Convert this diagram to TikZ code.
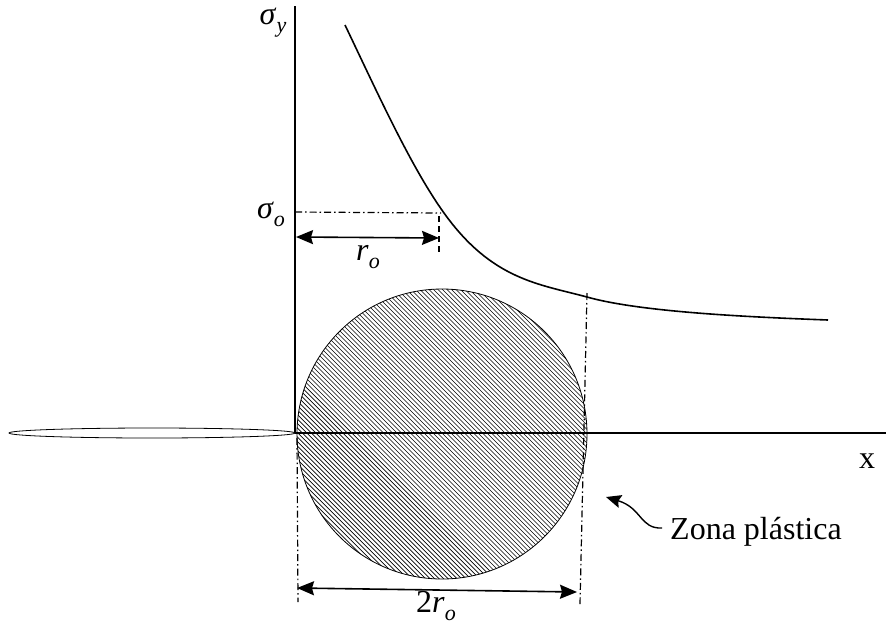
\documentclass[tikz,border=0pt]{standalone}
\usepackage{fontspec}
\setmainfont{Liberation Serif}
\usetikzlibrary{arrows.meta,calc}
\newcommand\symsub[2]{#1\raisebox{-0.25em}{\fontsize{22}{22}\selectfont\textit{#2}}}
\begin{document}
\begin{tikzpicture}[x=1pt,y=-1pt,
  axis/.style={line width=1.6pt},
  thinline/.style={line width=0.8pt},
  hatch/.style={line width=0.7pt},
  dimline/.style={line width=1.6pt,{Stealth[length=17pt,width=14pt,inset=2pt]}-{Stealth[length=17pt,width=14pt,inset=2pt]}},
  dashdot/.style={line width=1.2pt,dash pattern=on 7pt off 3pt on 1.5pt off 3pt},
  shortdash/.style={line width=1.2pt,dash pattern=on 6pt off 4pt},
  lbl/.style={inner sep=0pt,font=\fontsize{32}{36}\selectfont}]
\useasboundingbox (0,0) rectangle (886,630);

\coordinate (O) at (295,433);
\coordinate (ytop) at (295,6);
\coordinate (xend) at (886,433);
\coordinate (C) at (442,434);
\coordinate (crack) at (152,433);

% plastic zone hatching
\begin{scope}
  \clip (C) circle (145);
  \foreach \i in {-215,-210.5,...,215}
    \draw[hatch] ($(C)+(\i-170,-170)$) -- ++(340,340);
\end{scope}
\draw[thinline] (C) circle (145);

% crack
\draw[thinline] (crack) ellipse [x radius=143, y radius=5];

% axes
\draw[axis] (ytop) -- (O);
\draw[axis] (O) -- (xend);

% stress curve
\coordinate (c0) at (345,25);
\coordinate (c1) at (444,213);
\coordinate (c2) at (587,297);
\coordinate (c3) at (828,320);
\draw[axis] (c0) .. controls (378,94) and (411,167) .. (c1)
               .. controls (492,280) and (539,284) .. (c2)
               .. controls (640,312) and (748,317) .. (c3);

% sigma_o level
\coordinate (so) at (295,212);
\coordinate (sc) at (441,213);
\coordinate (sv) at (439,216);
\coordinate (sd) at (439,253);
\draw[dashdot] (so) -- (sc);
\draw[shortdash] (sv) -- (sd);
\coordinate (ra) at (296,237);
\coordinate (rb) at (439,238);
\draw[dimline] (ra) -- (rb);

% 2r_o
\coordinate (la) at (297,438);
\coordinate (lb) at (298,602);
\coordinate (ua) at (587,293);
\coordinate (ub) at (580,604);
\draw[dashdot] (la) -- (lb);
\draw[dashdot] (ua) -- (ub);
\coordinate (da) at (297,588);
\coordinate (db) at (577,592);
\draw[dimline] (da) -- (db);

% labels
\node[lbl] (sy) at (273,23) {\symsub{\textit{σ}}{y}};
\node[lbl] (sol) at (271,214) {\symsub{\textit{σ}}{o}};
\node[lbl] (rol) at (368,257) {\symsub{\textit{r}}{o}};
\node[lbl] (trol) at (436,606) {\symsub{2\textit{r}}{o}};
\node[lbl] (xl) at (867,461) {x};
\node[lbl,anchor=west] (zona) at (670,532) {Zona plástica};

\coordinate (tail) at (662,528);
\coordinate (tip) at (606,497);
\draw[line width=1.4pt,-{Stealth[length=15pt,width=13pt,inset=2pt]}] (tail) .. controls (640,529) and (642,508) .. (tip);
\end{tikzpicture}
\end{document}
